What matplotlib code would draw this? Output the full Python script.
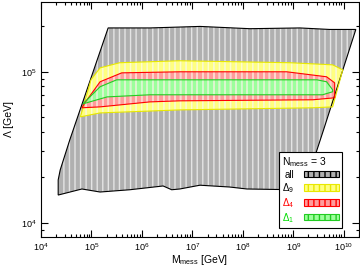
import numpy as np
import matplotlib
matplotlib.use('Agg')
import matplotlib.pyplot as plt
from matplotlib.patches import Patch

plt.rcParams['font.family'] = ['Liberation Sans', 'DejaVu Sans']
plt.rcParams['mathtext.fontset'] = 'custom'
plt.rcParams['mathtext.rm'] = 'Liberation Sans'
plt.rcParams['mathtext.it'] = 'Liberation Sans'
plt.rcParams['hatch.linewidth'] = 1.0

# region outlines, log10(M_mess / GeV) and log10(Lambda / GeV)
all_logM = [4.34, 4.34, 4.38, 4.57, 5.33, 6.16, 7.15, 8.14, 9.13, 9.72, 10.24,
            9.60, 9.21, 8.08, 7.74, 7.15, 6.75, 6.59, 6.42, 5.76, 5.17, 4.81]
all_logL = [4.185, 4.285, 4.351, 4.55, 5.29, 5.29, 5.30, 5.285, 5.29, 5.28, 5.28,
            4.616, 4.219, 4.225, 4.238, 4.25, 4.225, 4.22, 4.245, 4.22, 4.205, 4.225]

d9_logM = [4.78, 5.17, 6.75, 9.39, 9.78, 9.98, 9.78, 8.93, 6.75, 5.56, 5.17, 4.99]
d9_logL = [4.702, 4.728, 4.748, 4.762, 4.768, 5.013, 5.046, 5.06, 5.073, 5.06, 5.026, 4.947]

d4_logM = [4.81, 5.17, 6.16, 6.75, 9.39, 9.82, 9.82, 9.66, 8.87, 6.75, 5.60, 5.17, 4.87]
d4_logL = [4.762, 4.768, 4.801, 4.808, 4.815, 4.828, 4.927, 4.967, 5.0, 5.0, 4.993, 4.934, 4.795]

d1_logM = [4.83, 5.31, 6.16, 9.58, 9.78, 9.78, 9.66, 9.47, 6.75, 5.50, 5.17]
d1_logL = [4.788, 4.834, 4.848, 4.848, 4.868, 4.881, 4.934, 4.947, 4.947, 4.947, 4.901]

regions = [
    ('all', all_logM, all_logL, '#b0b0b0', '#e4e4e4', 'black', 'black'),
    ('Δ$_9$', d9_logM, d9_logL, '#ffff80', '#ffffc8', '#e8e800', 'black'),
    ('Δ$_4$', d4_logM, d4_logL, '#ff9c9c', '#ffd0d0', 'red', 'red'),
    ('Δ$_1$', d1_logM, d1_logL, '#9cff9c', '#d0ffd0', '#22cc22', '#00dd00'),
]

fig = plt.figure(figsize=(3.6, 2.67), dpi=100)
ax = fig.add_axes([0.114, 0.112, 0.883, 0.881])

handles = []
for name, lm, ll, fc, hc, ec, tc in regions:
    x = 10 ** np.array(lm)
    y = 10 ** np.array(ll)
    ax.fill(x, y, facecolor=fc, edgecolor='none', zorder=1)
    ax.fill(x, y, facecolor='none', edgecolor=hc, hatch='|||', linewidth=0, zorder=2)
    ax.fill(x, y, facecolor='none', edgecolor=ec, linewidth=0.8, zorder=3)
    handles.append(Patch(facecolor=fc, edgecolor=ec, hatch='|||', linewidth=0.8, label=name))

ax.set_xscale('log')
ax.set_yscale('log')
ax.set_xlim(1e4, 2e10)
ax.set_ylim(8.07e3, 2.9e5)

ax.tick_params(which='both', direction='in', top=True, right=True, labelsize=6.5, width=0.8, pad=3)
ax.tick_params(which='major', length=5)
ax.tick_params(which='minor', length=2.5)
for s in ax.spines.values():
    s.set_linewidth(0.8)

ax.set_xlabel('M$_{mess}$ [GeV]', fontsize=7.5, labelpad=0)
ax.set_ylabel('Λ [GeV]', fontsize=7.5, labelpad=5)

leg = ax.legend(handles=handles, loc='lower right', bbox_to_anchor=(0.962, 0.02),
                markerfirst=False, title='N$_{mess}$ = 3', fontsize=7, title_fontsize=7.5,
                handlelength=3.6, handleheight=0.6, labelspacing=0.12, borderpad=0.3,
                handletextpad=1.0, fancybox=False, framealpha=1, edgecolor='black')
leg.get_frame().set_linewidth(0.8)
leg._legend_box.align = 'left'
for txt, r in zip(leg.get_texts(), regions):
    txt.set_color(r[6])

fig.savefig('out.png', dpi=100)
